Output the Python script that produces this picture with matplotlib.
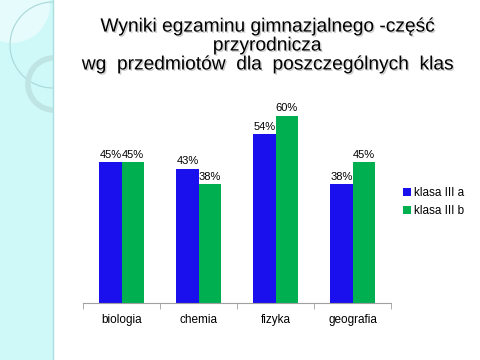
import matplotlib
matplotlib.use('Agg')
import matplotlib.pyplot as plt
import matplotlib.patches as mpatches
import matplotlib.patheffects as pe
from matplotlib.transforms import Affine2D
import numpy as np

plt.rcParams['font.family'] = ['Liberation Sans', 'DejaVu Sans']

# Data
subjects = ['biologia', 'chemia', 'fizyka', 'geografia']
klasa_a = [0.45, 0.43, 0.54, 0.38]
klasa_b = [0.45, 0.38, 0.60, 0.45]
series_names = ['klasa III a', 'klasa III b']

blue = '#1a10ee'
green = '#00b050'

fig = plt.figure(figsize=(4.8, 3.6), dpi=100)
fig.patch.set_facecolor('white')

# Slide decoration on the left side
W, H = 480, 360
stripe = mpatches.Rectangle((0, 0), 53 / W, 1, transform=fig.transFigure,
                            facecolor='#cff8f8', edgecolor='none', zorder=0)
fig.patches.append(stripe)
fig.add_artist(plt.Line2D([53 / W, 53 / W], [0, 1], transform=fig.transFigure,
                          color='#a9dede', lw=1, zorder=1))

# circles in pixel coords, clipped to the stripe
px = Affine2D().scale(1 / 100.0) + fig.dpi_scale_trans


def px_circle(cx, cy, r, **kw):
    c = mpatches.Circle((cx, H - cy), r, transform=px, **kw)
    c.set_clip_path(stripe)
    fig.add_artist(c)


px_circle(12, 5, 38, facecolor='#e6fbfb', edgecolor='none', zorder=1)
px_circle(53, 45, 43, facecolor='none', edgecolor='#a8d8d8', lw=0.8, zorder=2)
px_circle(54, 84, 26, facecolor='none', edgecolor='#bfe4e4', lw=4, zorder=2)

# Title
fig.text(267 / W, 1 - 46 / H,
         'Wyniki egzaminu gimnazjalnego -część\nprzyrodnicza\n'
         'wg  przedmiotów  dla  poszczególnych  klas',
         ha='center', va='center', fontsize=13.8, linespacing=1.15,
         path_effects=[pe.SimplePatchShadow(offset=(1, -1), alpha=0.2), pe.Normal()])

# Chart
ax = fig.add_axes([83 / W, 57 / H, 308 / W, 203 / H])
x = np.arange(len(subjects))
w = 0.286
bars_a = ax.bar(x - w / 2, klasa_a, w, color=blue, label=series_names[0])
bars_b = ax.bar(x + w / 2, klasa_b, w, color=green, label=series_names[1])

for bars, vals in [(bars_a, klasa_a), (bars_b, klasa_b)]:
    for b, v in zip(bars, vals):
        ax.annotate(f'{v * 100:.0f}%', (b.get_x() + b.get_width() / 2, v),
                    xytext=(0, 2), textcoords='offset points',
                    ha='center', va='bottom', fontsize=8)

ax.set_xlim(-0.5, 3.5)
ax.set_ylim(0, 0.65)
ax.set_yticks([])
ax.set_xticks(x)
ax.set_xticklabels(subjects, fontsize=8.5)
ax.set_xticks(np.arange(-0.5, 4, 1), minor=True)
ax.tick_params(axis='x', which='major', length=0, pad=8)
ax.tick_params(axis='x', which='minor', length=4, color='#a0a0a0')
for s in ['top', 'right', 'left']:
    ax.spines[s].set_visible(False)
ax.spines['bottom'].set_color('#a0a0a0')
ax.set_facecolor('none')

fig.legend(handles=[bars_a, bars_b], labels=series_names,
           loc='center left', bbox_to_anchor=(392 / W, 1 - 202 / H),
           frameon=False, fontsize=8.5, handlelength=0.7, handleheight=0.7,
           handletextpad=0.3, labelspacing=0.5)

plt.savefig('out.png', dpi=100)
